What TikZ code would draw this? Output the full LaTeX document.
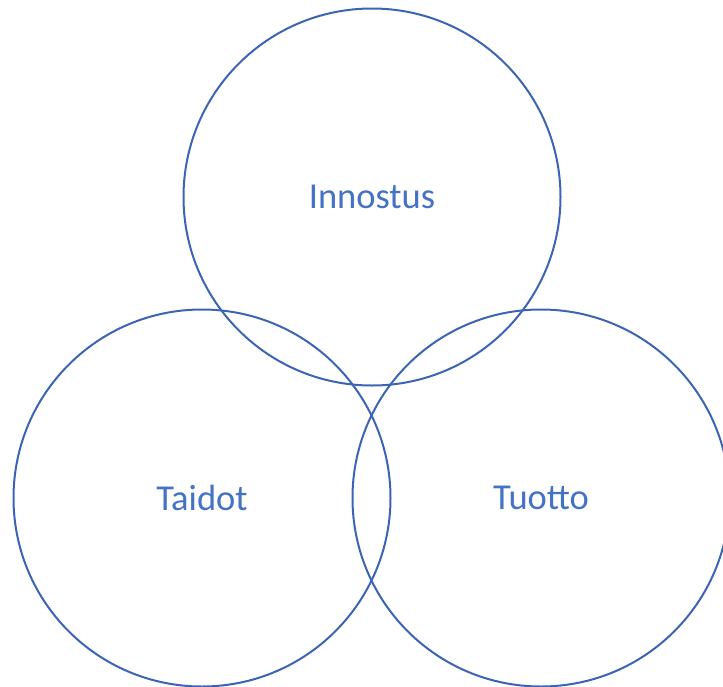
\documentclass[tikz,border=0pt]{standalone}
\usepackage{fontspec}
\setmainfont{Carlito}
\usepackage{xcolor}
\usepackage{tikz}
\usetikzlibrary{positioning}
\definecolor{vennblue}{RGB}{68,114,196}
\definecolor{vennline}{RGB}{60,100,180}
\tikzset{
  venn/.style={circle, draw=vennline, line width=2pt, minimum size=377pt,
    inner sep=0pt, text=vennblue, font=\fontsize{36.5}{42}\selectfont}
}

\begin{document}
\begin{tikzpicture}[x=1pt, y=-1pt]
  \useasboundingbox (0,0) rectangle (723,686);
  \node[venn] (innostus) at (372,197) {Innostus};
  \node[venn] (taidot) at (202,498) {Taidot};
  \node[venn] (tuotto) at (541,498) {Tuotto};
\end{tikzpicture}
\end{document}
